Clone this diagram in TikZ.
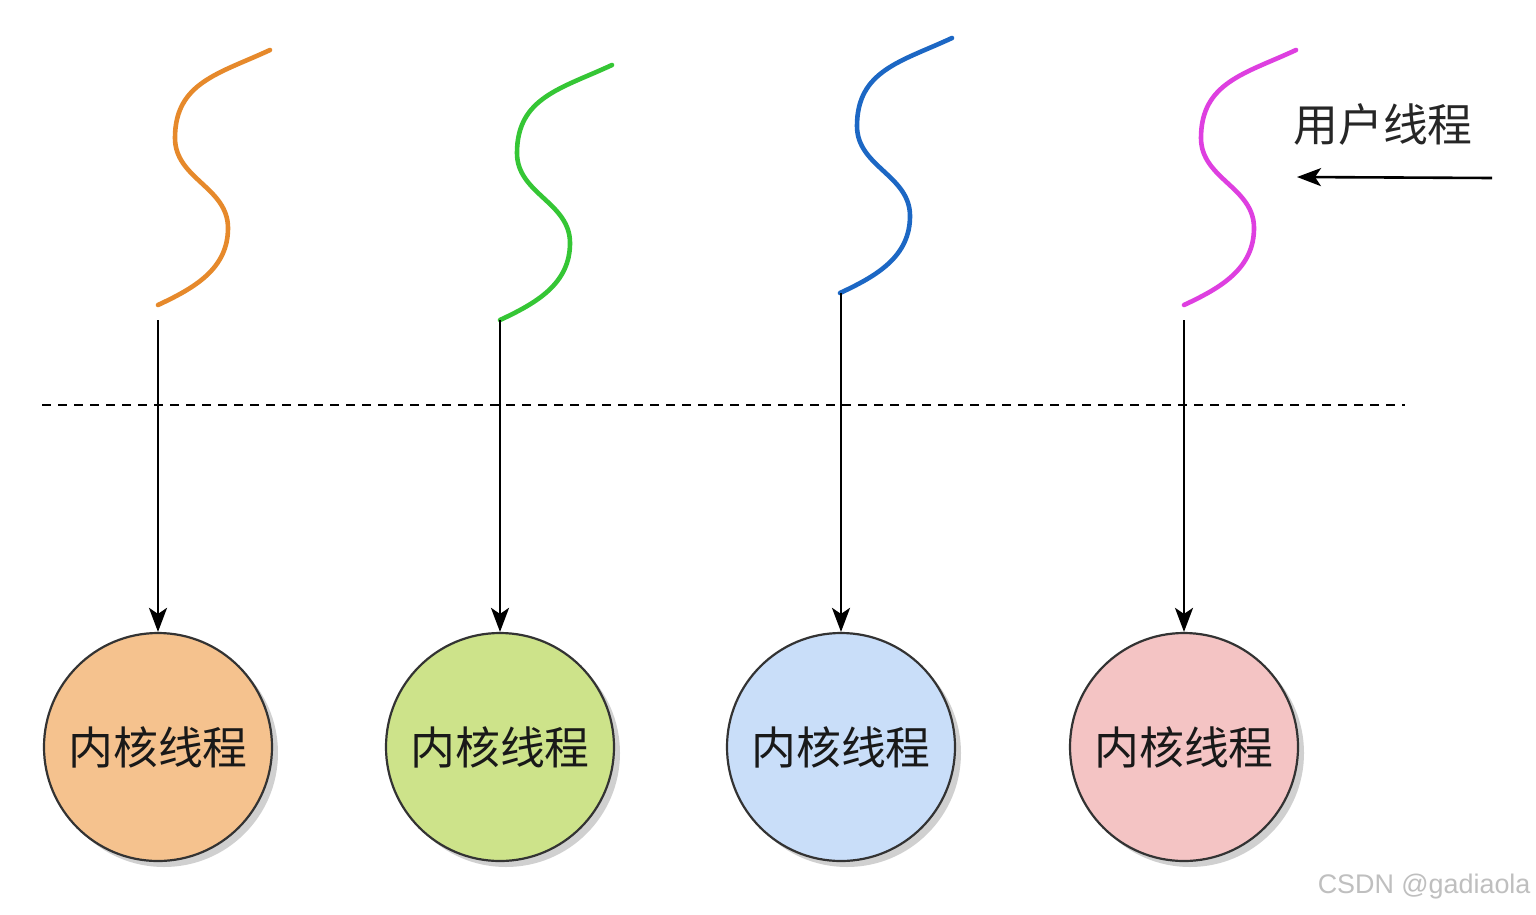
\documentclass[tikz,border=0pt]{standalone}
\usepackage{fontspec}
\setmainfont{Liberation Sans}
\newfontfamily\cjk{Noto Sans CJK SC}
\usetikzlibrary{arrows.meta}
\definecolor{cOr}{HTML}{E6892B}
\definecolor{cGr}{HTML}{35C635}
\definecolor{cBl}{HTML}{1C67C4}
\definecolor{cMg}{HTML}{DE3FE0}
\definecolor{fOr}{HTML}{F5C28E}
\definecolor{fGr}{HTML}{CDE38A}
\definecolor{fBl}{HTML}{C9DEF9}
\definecolor{fPk}{HTML}{F4C4C4}
\tikzset{
  wave/.style={line width=4.6bp, line cap=round},
  kern/.style={circle, draw=black!80, line width=2.2bp, minimum size=228bp, inner sep=0pt,
     font=\cjk\fontsize{45}{50}\selectfont, text=black!90},
  shad/.style={circle, fill=black!30, opacity=0.6, minimum size=228bp, inner sep=0pt},
  link/.style={line width=2.6bp, -{Stealth[length=24bp,width=18bp,inset=6bp]}},
  sep/.style={line width=2.6bp, dash pattern=on 9bp off 7bp}
}
\begin{document}
\begin{tikzpicture}[x=1bp,y=-1bp]
\fill[white] (0,0) rectangle (1536,914);
\useasboundingbox (0,0) rectangle (1536,914);

% dashed separator
\coordinate (dl) at (42,405);
\coordinate (dr) at (1405,405);
\draw[sep] (dl) -- (dr);

% waves
\foreach \dx/\dy/\col/\n in {0/0/cOr/1, 342/15/cGr/2, 682/-12/cBl/3, 1026/0/cMg/4}{
  \begin{scope}[shift={(\dx,\dy)}]
    \draw[wave, draw=\col] (270,50) to[out=205,in=90,looseness=1.1] (175,138)
      to[out=270,in=90] (228,228) to[out=270,in=25] (158,305);
  \end{scope}
}

% arrow starts
\coordinate (s1) at (158,320);
\coordinate (s2) at (500,320);
\coordinate (s3) at (841,293);
\coordinate (s4) at (1184,320);

% shadows
\foreach \x in {158,500,841,1184}{
  \node[shad] at (\x+6,753) {};
}
% kernel threads
\node[kern, fill=fOr] (k1) at (158,747) {内核线程};
\node[kern, fill=fGr] (k2) at (500,747) {内核线程};
\node[kern, fill=fBl] (k3) at (841,747) {内核线程};
\node[kern, fill=fPk] (k4) at (1184,747) {内核线程};

\draw[link] (s1) -- (k1.north);
\draw[link] (s2) -- (k2.north);
\draw[link] (s3) -- (k3.north);
\draw[link] (s4) -- (k4.north);

% user thread label
\node[font=\cjk\fontsize{45}{50}\selectfont, text=black!85] (ut) at (1383,124) {用户线程};
\coordinate (ue) at (1492,178);
\coordinate (uh) at (1297,177);
\draw[link] (ue) -- (uh);

% watermark
\node[font=\fontsize{27}{30}\selectfont, text=black!25, anchor=east] (wm) at (1534,887) {CSDN @gadiaola};
\end{tikzpicture}
\end{document}
